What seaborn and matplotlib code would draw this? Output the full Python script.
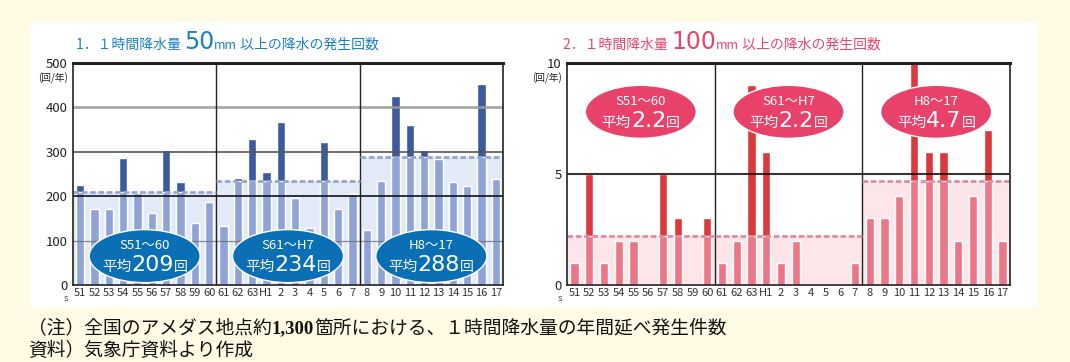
import numpy as np
import pandas as pd
import matplotlib
matplotlib.use("Agg")
import matplotlib.pyplot as plt
from matplotlib.patches import Ellipse, Rectangle
import seaborn as sns

sns.set_theme(style="white")
plt.rcParams["font.family"] = ["Noto Sans CJK JP", "DejaVu Sans"]

# ---- data ---------------------------------------------------------------
years = ["51", "52", "53", "54", "55", "56", "57", "58", "59", "60",
         "61", "62", "63", "H1", "2", "3", "4", "5", "6", "7",
         "8", "9", "10", "11", "12", "13", "14", "15", "16", "17"]

# annual occurrences of >=50 mm/h rainfall (count / year)
count_50mm = [225, 172, 172, 287, 208, 163, 303, 232, 140, 188,
              134, 242, 328, 254, 368, 195, 128, 321, 171, 206,
              123, 234, 426, 361, 305, 283, 232, 223, 452, 239]

# annual occurrences of >=100 mm/h rainfall (count / year)
count_100mm = [1, 5, 1, 2, 2, 0, 5, 3, 0, 3,
               1, 2, 9, 6, 1, 2, 0, 0, 0, 1,
               3, 3, 4, 10, 6, 6, 2, 4, 7, 2]

period_names = ["S51〜60", "S61〜H7", "H8〜17"]
period_avg_50mm = [209, 234, 288]
period_avg_100mm = [2.2, 2.2, 4.7]
period_len = 10

DIGITS = {"family": "DejaVu Sans"}

W, H = 1070, 362
fig = plt.figure(figsize=(W / 100, H / 100), dpi=100)
fig.patch.set_facecolor("#fffbe4")
fig.patches.append(Rectangle((30 / W, 1 - 307 / H), 1008 / W, 285 / H,
                             transform=fig.transFigure, facecolor="white",
                             edgecolor="none", zorder=-5))

ax1 = fig.add_axes([73 / W, 1 - 285 / H, 430 / W, 222 / H])
ax2 = fig.add_axes([567 / W, 1 - 285 / H, 443 / W, 222 / H])
for ax in (ax1, ax2):
    ax.set_facecolor("white")

fig.canvas.draw()
renderer = fig.canvas.get_renderer()


def rich_text(x_px, y_px, pieces, color, ha="left", zorder=3):
    """Place a row of differently-sized text pieces on a common baseline.
    x_px / y_px are figure pixel coordinates (y from the top)."""
    texts = []
    for s, size, kw in pieces:
        t = fig.text(0, 0, s, fontsize=size, color=color, va="baseline",
                     ha="left", zorder=zorder, **kw)
        texts.append(t)
    widths = [t.get_window_extent(renderer).width for t in texts]
    total = sum(widths)
    x = x_px - (total / 2 if ha == "center" else 0)
    for t, w in zip(texts, widths):
        t.set_position((x / W, 1 - y_px / H))
        x += w


def draw_panel(ax, values, avgs, ymax, yticks, bar_dark, bar_light,
               band_color, dash_color, hlines):
    # mean of the period each year belongs to
    period_mean = np.repeat(avgs, period_len)
    df = pd.DataFrame({"year": years, "count": values,
                       "below": np.minimum(values, period_mean)})

    # period averages: shaded band up to the mean
    for k, avg in enumerate(avgs):
        x0 = k * period_len - 0.5
        ax.fill_between([x0, x0 + period_len], 0, avg, color=band_color,
                        lw=0, zorder=0.5)

    # full bar in the dark colour, the part up to the period mean lighter
    sns.barplot(data=df, x="year", y="count", order=years, color=bar_dark,
                saturation=1, width=0.56, ax=ax, zorder=2)
    sns.barplot(data=df, x="year", y="below", order=years, color=bar_light,
                saturation=1, width=0.56, ax=ax, zorder=2.5)

    ax.set_xlim(-0.5, len(years) - 0.5)
    ax.set_ylim(0, ymax)
    ax.set_xlabel("")
    ax.set_ylabel("")
    ax.set_yticks(yticks)
    ax.tick_params(axis="y", labelsize=9.5, colors="#222222", length=0, pad=4)
    ax.tick_params(axis="x", labelsize=8, colors="#333333", length=0, pad=2)
    for sp in ax.spines.values():
        sp.set_color("#222222")
        sp.set_linewidth(1.2)
        sp.set_zorder(6)
    ax.spines["top"].set_linewidth(2.2)

    # horizontal reference lines, drawn across the bars
    for yv, col, lw in hlines:
        ax.axhline(yv, color=col, lw=lw, zorder=3.2, alpha=0.85)
    # period separators
    for k in range(1, len(avgs)):
        ax.axvline(k * period_len - 0.5, color="#222222", lw=1.0, zorder=3.2)

    # dashed mean line per period
    for k, avg in enumerate(avgs):
        x0 = k * period_len - 0.5
        ax.hlines(avg, x0, x0 + period_len, colors=dash_color, lw=2.0,
                  linestyles=(0, (2.0, 1.0)), zorder=4)

    ax.text(-0.012, -0.045, "S", transform=ax.transAxes, fontsize=5.5,
            color="#333333", ha="right", va="top")
    ax.text(-0.012, 0.93, "(回/年)", transform=ax.transAxes, fontsize=7,
            color="#222222", ha="right", va="center")


draw_panel(ax1, count_50mm, period_avg_50mm, 500, [0, 100, 200, 300, 400, 500],
           "#3b5b9c", "#8fa3d6", "#e3eaf7", "#97a6cf",
           [(100, "#777777", 0.9), (200, "#111111", 1.4),
            (300, "#555555", 1.4), (400, "#9a9a9a", 2.0)])
draw_panel(ax2, count_100mm, period_avg_100mm, 10, [0, 5, 10],
           "#db3a3d", "#ea7686", "#fce6ea", "#dc8fa3",
           [(5, "#111111", 1.5)])

fig.canvas.draw()

# period average badges
for ax, avgs, ell_color, y_frac, fmt in [
        (ax1, period_avg_50mm, "#0b6fb6", 0.13, "{:d}"),
        (ax2, period_avg_100mm, "#e8426a", 0.78, "{:.1f}")]:
    for k, (name, avg) in enumerate(zip(period_names, avgs)):
        xc = k * period_len + (period_len - 1) / 2
        px, _ = ax.transData.transform((xc, 0))
        _, py = ax.transAxes.transform((0, y_frac))
        ell = Ellipse((px / W, py / H), 111 / W, 53 / H,
                      transform=fig.transFigure, facecolor=ell_color,
                      edgecolor="white", lw=1.0, zorder=5)
        fig.patches.append(ell)
        ytop = H - py
        rich_text(px, ytop - 7, [(name, 9.5, {})], "white", ha="center",
                  zorder=6)
        rich_text(px, ytop + 15,
                  [("平均", 10.5, {}), (fmt.format(avg), 16, DIGITS),
                   ("回", 10, {})],
                  "white", ha="center", zorder=6)

# panel titles
rich_text(76, 49, [("1．１時間降水量 ", 10, {}), ("50", 17, DIGITS),
                   ("mm", 9, {}), (" 以上の降水の発生回数", 10, {})], "#1a80c4")
rich_text(563, 49, [("2．１時間降水量 ", 10, {}), ("100", 17, DIGITS),
                    ("mm", 9, {}), (" 以上の降水の発生回数", 10, {})], "#e8456b")

# notes
rich_text(28, 333, [("（注）全国のアメダス地点約", 13.5, {}),
                    ("1,300", 13.5, {"family": "Liberation Serif", "weight": "bold"}),
                    ("箇所における、１時間降水量の年間延べ発生件数", 13.5, {})], "#111111")
rich_text(28, 356, [("資料）気象庁資料より作成", 13.5, {})], "#111111")

fig.savefig("out.png", dpi=100, facecolor=fig.get_facecolor())
